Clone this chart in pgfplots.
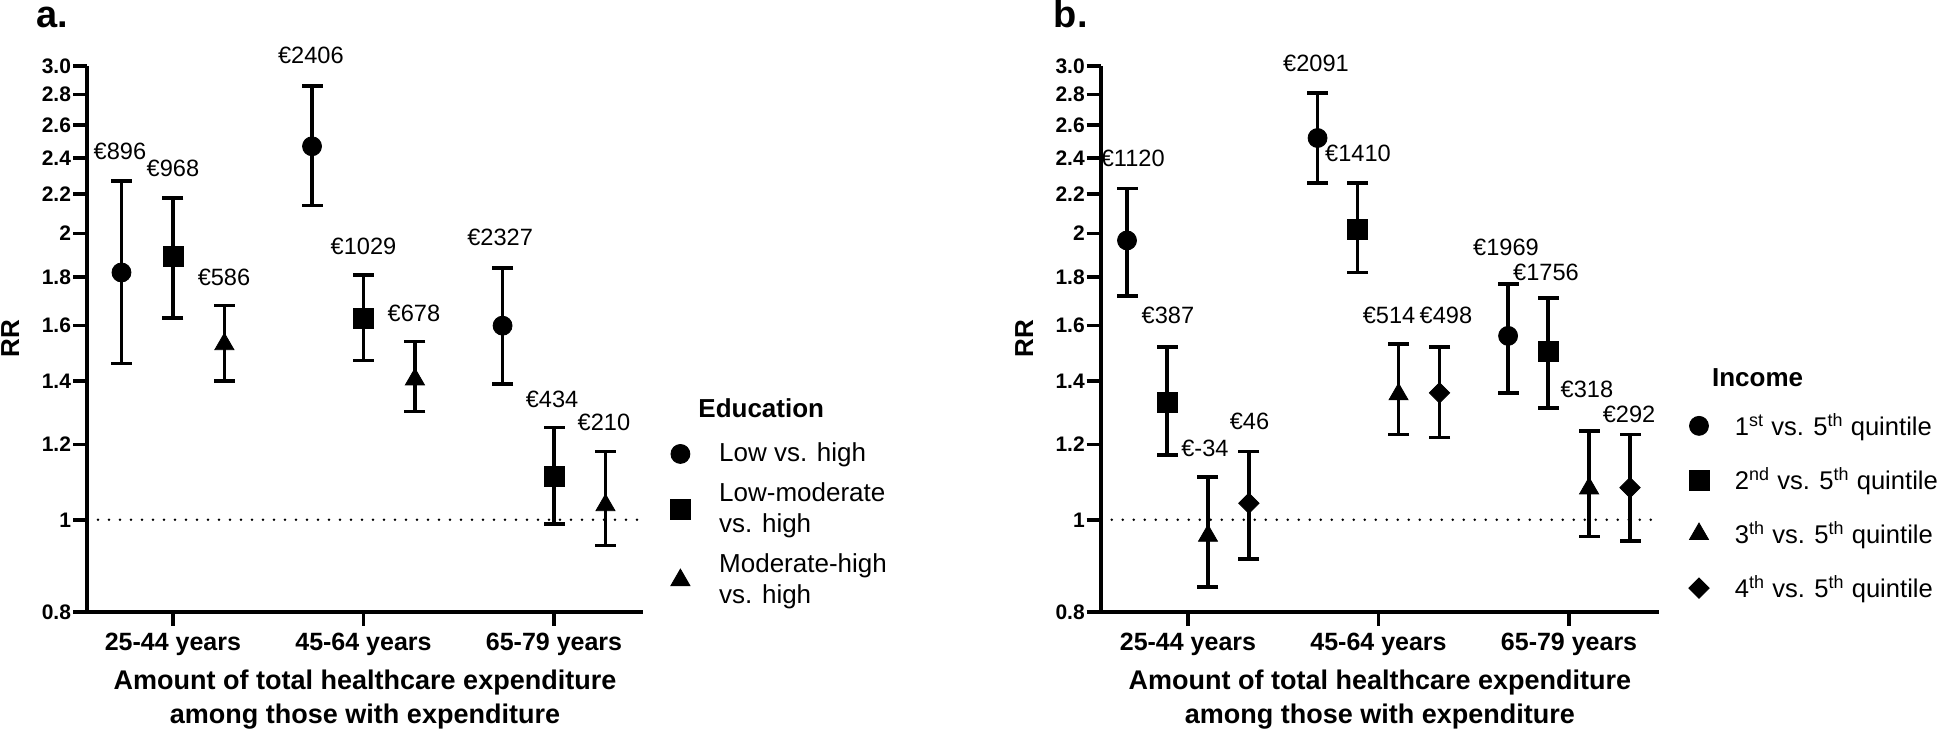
\documentclass[border=0pt]{standalone}
\usepackage{fontspec}
\setmainfont{Liberation Sans}
\usepackage{pgfplots}
\pgfplotsset{compat=1.18}
\usepackage{pgfplotstable}

\newcommand\annfont{\fontsize{11.8}{13}\selectfont}

% ---------------- panel a data ----------------
\pgfplotstableread{
x y
-0.27 1.82
0.73 2.47
1.73 1.60
}\aLow
\pgfplotstableread{
x y
0 1.89
1 1.63
2 1.11
}\aLowMod
\pgfplotstableread{
x y
0.27 1.53
1.27 1.405
2.27 1.036
}\aModHigh
\pgfplotstableread{
x y
-0.27 1.46
-0.27 2.27
nan nan
0.73 2.14
0.73 2.86
nan nan
1.73 1.39
1.73 1.84
nan nan
0 1.63
0 2.18
nan nan
1 1.47
1 1.81
nan nan
2 0.99
2 1.25
nan nan
0.27 1.40
0.27 1.68
nan nan
1.27 1.30
1.27 1.54
nan nan
2.27 0.94
2.27 1.18
}\aWhisk

% ---------------- panel b data ----------------
\pgfplotstableread{
x y
-0.32 1.967
0.68 2.52
1.68 1.561
}\bFirst
\pgfplotstableread{
x y
-0.11 1.33
0.89 2.02
1.89 1.503
}\bSecond
\pgfplotstableread{
x y
0.105 0.962
1.105 1.355
2.105 1.079
}\bThird
\pgfplotstableread{
x y
0.32 1.041
1.32 1.36
2.32 1.081
}\bFourth
\pgfplotstableread{
x y
-0.32 1.72
-0.32 2.23
nan nan
0.68 2.26
0.68 2.81
nan nan
1.68 1.36
1.68 1.77
nan nan
-0.11 1.17
-0.11 1.52
nan nan
0.89 1.82
0.89 2.26
nan nan
1.89 1.31
1.89 1.71
nan nan
0.105 0.85
0.105 1.11
nan nan
1.105 1.23
1.105 1.53
nan nan
2.105 0.96
2.105 1.24
nan nan
0.32 0.91
0.32 1.18
nan nan
1.32 1.22
1.32 1.52
nan nan
2.32 0.95
2.32 1.23
}\bWhisk

\begin{document}
\begin{tikzpicture}
\useasboundingbox (0,0) rectangle (973pt,366pt);

\node[anchor=base west, inner sep=0pt, font=\fontsize{19}{22}\bfseries\selectfont] at (18pt,352pt) {a.};
\node[anchor=base west, inner sep=0pt, font=\fontsize{19}{22}\bfseries\selectfont] at (526.75pt,352pt) {b.};
\node[anchor=west, inner sep=0pt, font=\fontsize{13}{15}\bfseries\selectfont] at (349pt,162pt) {Education};
\node[anchor=west, inner sep=0pt, font=\fontsize{13}{15}\bfseries\selectfont] at (855.85pt,177pt) {Income};

% ================= panel a =================
\begin{axis}[
    at={(43.5pt,60pt)}, anchor=south west,
    scale only axis, width=278pt, height=273pt,
    xmin=-0.451, xmax=2.467,
    ymode=log, ymin=0.8, ymax=3.0,
    ytick={0.8,1,1.2,1.4,1.6,1.8,2,2.2,2.4,2.6,2.8,3},
    yticklabels={0.8,1,1.2,1.4,1.6,1.8,2,2.2,2.4,2.6,2.8,3.0},
    xtick={0,1,2},
    xticklabels={25-44 years,45-64 years,65-79 years},
    axis x line*=bottom, axis y line*=left,
    axis line style={line width=1.8pt, black},
    major tick style={line width=1.8pt, black},
    tick align=outside, major tick length=7pt,
    clip=false,
    yticklabel style={font=\fontsize{10.5}{12}\bfseries\selectfont, inner sep=0.8pt},
    xticklabel style={font=\fontsize{12.5}{14}\bfseries\selectfont},
    ylabel={RR},
    ylabel style={at={(axis description cs:-0.138,0.5)}, anchor=center, font=\fontsize{13}{15}\bfseries\selectfont},
    xlabel={Amount of total healthcare expenditure\\among those with expenditure},
    xlabel style={at={(axis description cs:0.5,-0.161)}, anchor=center, align=center, font=\fontsize{13.5}{17}\bfseries\selectfont},
    unbounded coords=jump,
    legend cell align=left,
    legend style={draw=none, fill=none, inner sep=0pt, anchor=north west,
      font=\fontsize{13}{15.5}\selectfont,
      cells={anchor=west, align=left},
      at={(axis description cs:1,0.3175)}, xshift=13.5pt, row sep=5pt, column sep=12.4pt}]
\addplot[black, line width=1.4pt, dash pattern=on 0pt off 5.5pt, line cap=round, forget plot] coordinates {(-0.451,1) (2.467,1)};
\addplot[black, line width=1.8pt, mark=-, mark size=5.25pt, mark options={solid}, forget plot] table[x=x,y=y] {\aWhisk};
\addplot[black, only marks, mark=*, mark size=4.75pt] table[x=x,y=y] {\aLow};
\addlegendentry{Low vs. high}
\addplot[black, only marks, mark=square*, mark size=5pt] table[x=x,y=y] {\aLowMod};
\addlegendentry{Low-moderate\\vs. high}
\addplot[black, only marks, mark=triangle*, mark size=5.5pt] table[x=x,y=y] {\aModHigh};
\addlegendentry{Moderate-high\\vs. high}

\node[font=\annfont] at (axis cs:-0.278,2.438) {€896};
\node[font=\annfont] at (axis cs:0.0,2.34) {€968};
\node[font=\annfont] at (axis cs:0.268,1.80) {€586};
\node[font=\annfont] at (axis cs:0.724,3.08) {€2406};
\node[font=\annfont] at (axis cs:1.0,1.937) {€1029};
\node[font=\annfont] at (axis cs:1.265,1.65) {€678};
\node[font=\annfont] at (axis cs:1.717,1.98) {€2327};
\node[font=\annfont] at (axis cs:1.99,1.337) {€434};
\node[font=\annfont] at (axis cs:2.262,1.265) {€210};
\end{axis}

% ================= panel b =================
\begin{axis}[
    at={(550.35pt,60pt)}, anchor=south west,
    scale only axis, width=279.15pt, height=273pt,
    xmin=-0.458, xmax=2.472,
    ymode=log, ymin=0.8, ymax=3.0,
    ytick={0.8,1,1.2,1.4,1.6,1.8,2,2.2,2.4,2.6,2.8,3},
    yticklabels={0.8,1,1.2,1.4,1.6,1.8,2,2.2,2.4,2.6,2.8,3.0},
    xtick={0,1,2},
    xticklabels={25-44 years,45-64 years,65-79 years},
    axis x line*=bottom, axis y line*=left,
    axis line style={line width=1.8pt, black},
    major tick style={line width=1.8pt, black},
    tick align=outside, major tick length=7pt,
    clip=false,
    yticklabel style={font=\fontsize{10.5}{12}\bfseries\selectfont, inner sep=0.8pt},
    xticklabel style={font=\fontsize{12.5}{14}\bfseries\selectfont},
    ylabel={RR},
    ylabel style={at={(axis description cs:-0.137,0.5)}, anchor=center, font=\fontsize{13}{15}\bfseries\selectfont},
    xlabel={Amount of total healthcare expenditure\\among those with expenditure},
    xlabel style={at={(axis description cs:0.5,-0.161)}, anchor=center, align=center, font=\fontsize{13.5}{17}\bfseries\selectfont},
    unbounded coords=jump,
    legend cell align=left,
    legend style={draw=none, fill=none, inner sep=0pt, anchor=north west,
      font=\fontsize{12.8}{15}\selectfont,
      cells={anchor=west, align=left},
      at={(axis description cs:1,0.3716)}, xshift=14.7pt, row sep=10.7pt, column sep=10.9pt}]
\addplot[black, line width=1.4pt, dash pattern=on 0pt off 5.5pt, line cap=round, forget plot] coordinates {(-0.458,1) (2.472,1)};
\addplot[black, line width=1.8pt, mark=-, mark size=5.25pt, mark options={solid}, forget plot] table[x=x,y=y] {\bWhisk};
\addplot[black, only marks, mark=*, mark size=4.75pt] table[x=x,y=y] {\bFirst};
\addlegendentry{1\textsuperscript{st} vs. 5\textsuperscript{th} quintile}
\addplot[black, only marks, mark=square*, mark size=5pt] table[x=x,y=y] {\bSecond};
\addlegendentry{2\textsuperscript{nd} vs. 5\textsuperscript{th} quintile}
\addplot[black, only marks, mark=triangle*, mark size=5.5pt] table[x=x,y=y] {\bThird};
\addlegendentry{3\textsuperscript{th} vs. 5\textsuperscript{th} quintile}
\addplot[black, only marks, mark=square*, mark size=3.6pt, mark options={rotate=45}] table[x=x,y=y] {\bFourth};
\addlegendentry{4\textsuperscript{th} vs. 5\textsuperscript{th} quintile}

\node[font=\annfont] at (axis cs:-0.29,2.40) {€1120};
\node[font=\annfont] at (axis cs:-0.105,1.639) {€387};
\node[font=\annfont] at (axis cs:0.089,1.19) {€-34};
\node[font=\annfont] at (axis cs:0.323,1.269) {€46};
\node[font=\annfont] at (axis cs:0.672,3.016) {€2091};
\node[font=\annfont] at (axis cs:0.892,2.43) {€1410};
\node[font=\annfont] at (axis cs:1.055,1.639) {€514};
\node[font=\annfont] at (axis cs:1.354,1.639) {€498};
\node[font=\annfont] at (axis cs:1.669,1.932) {€1969};
\node[font=\annfont] at (axis cs:1.879,1.819) {€1756};
\node[font=\annfont] at (axis cs:2.094,1.37) {€318};
\node[font=\annfont] at (axis cs:2.315,1.29) {€292};
\end{axis}
\end{tikzpicture}
\end{document}
